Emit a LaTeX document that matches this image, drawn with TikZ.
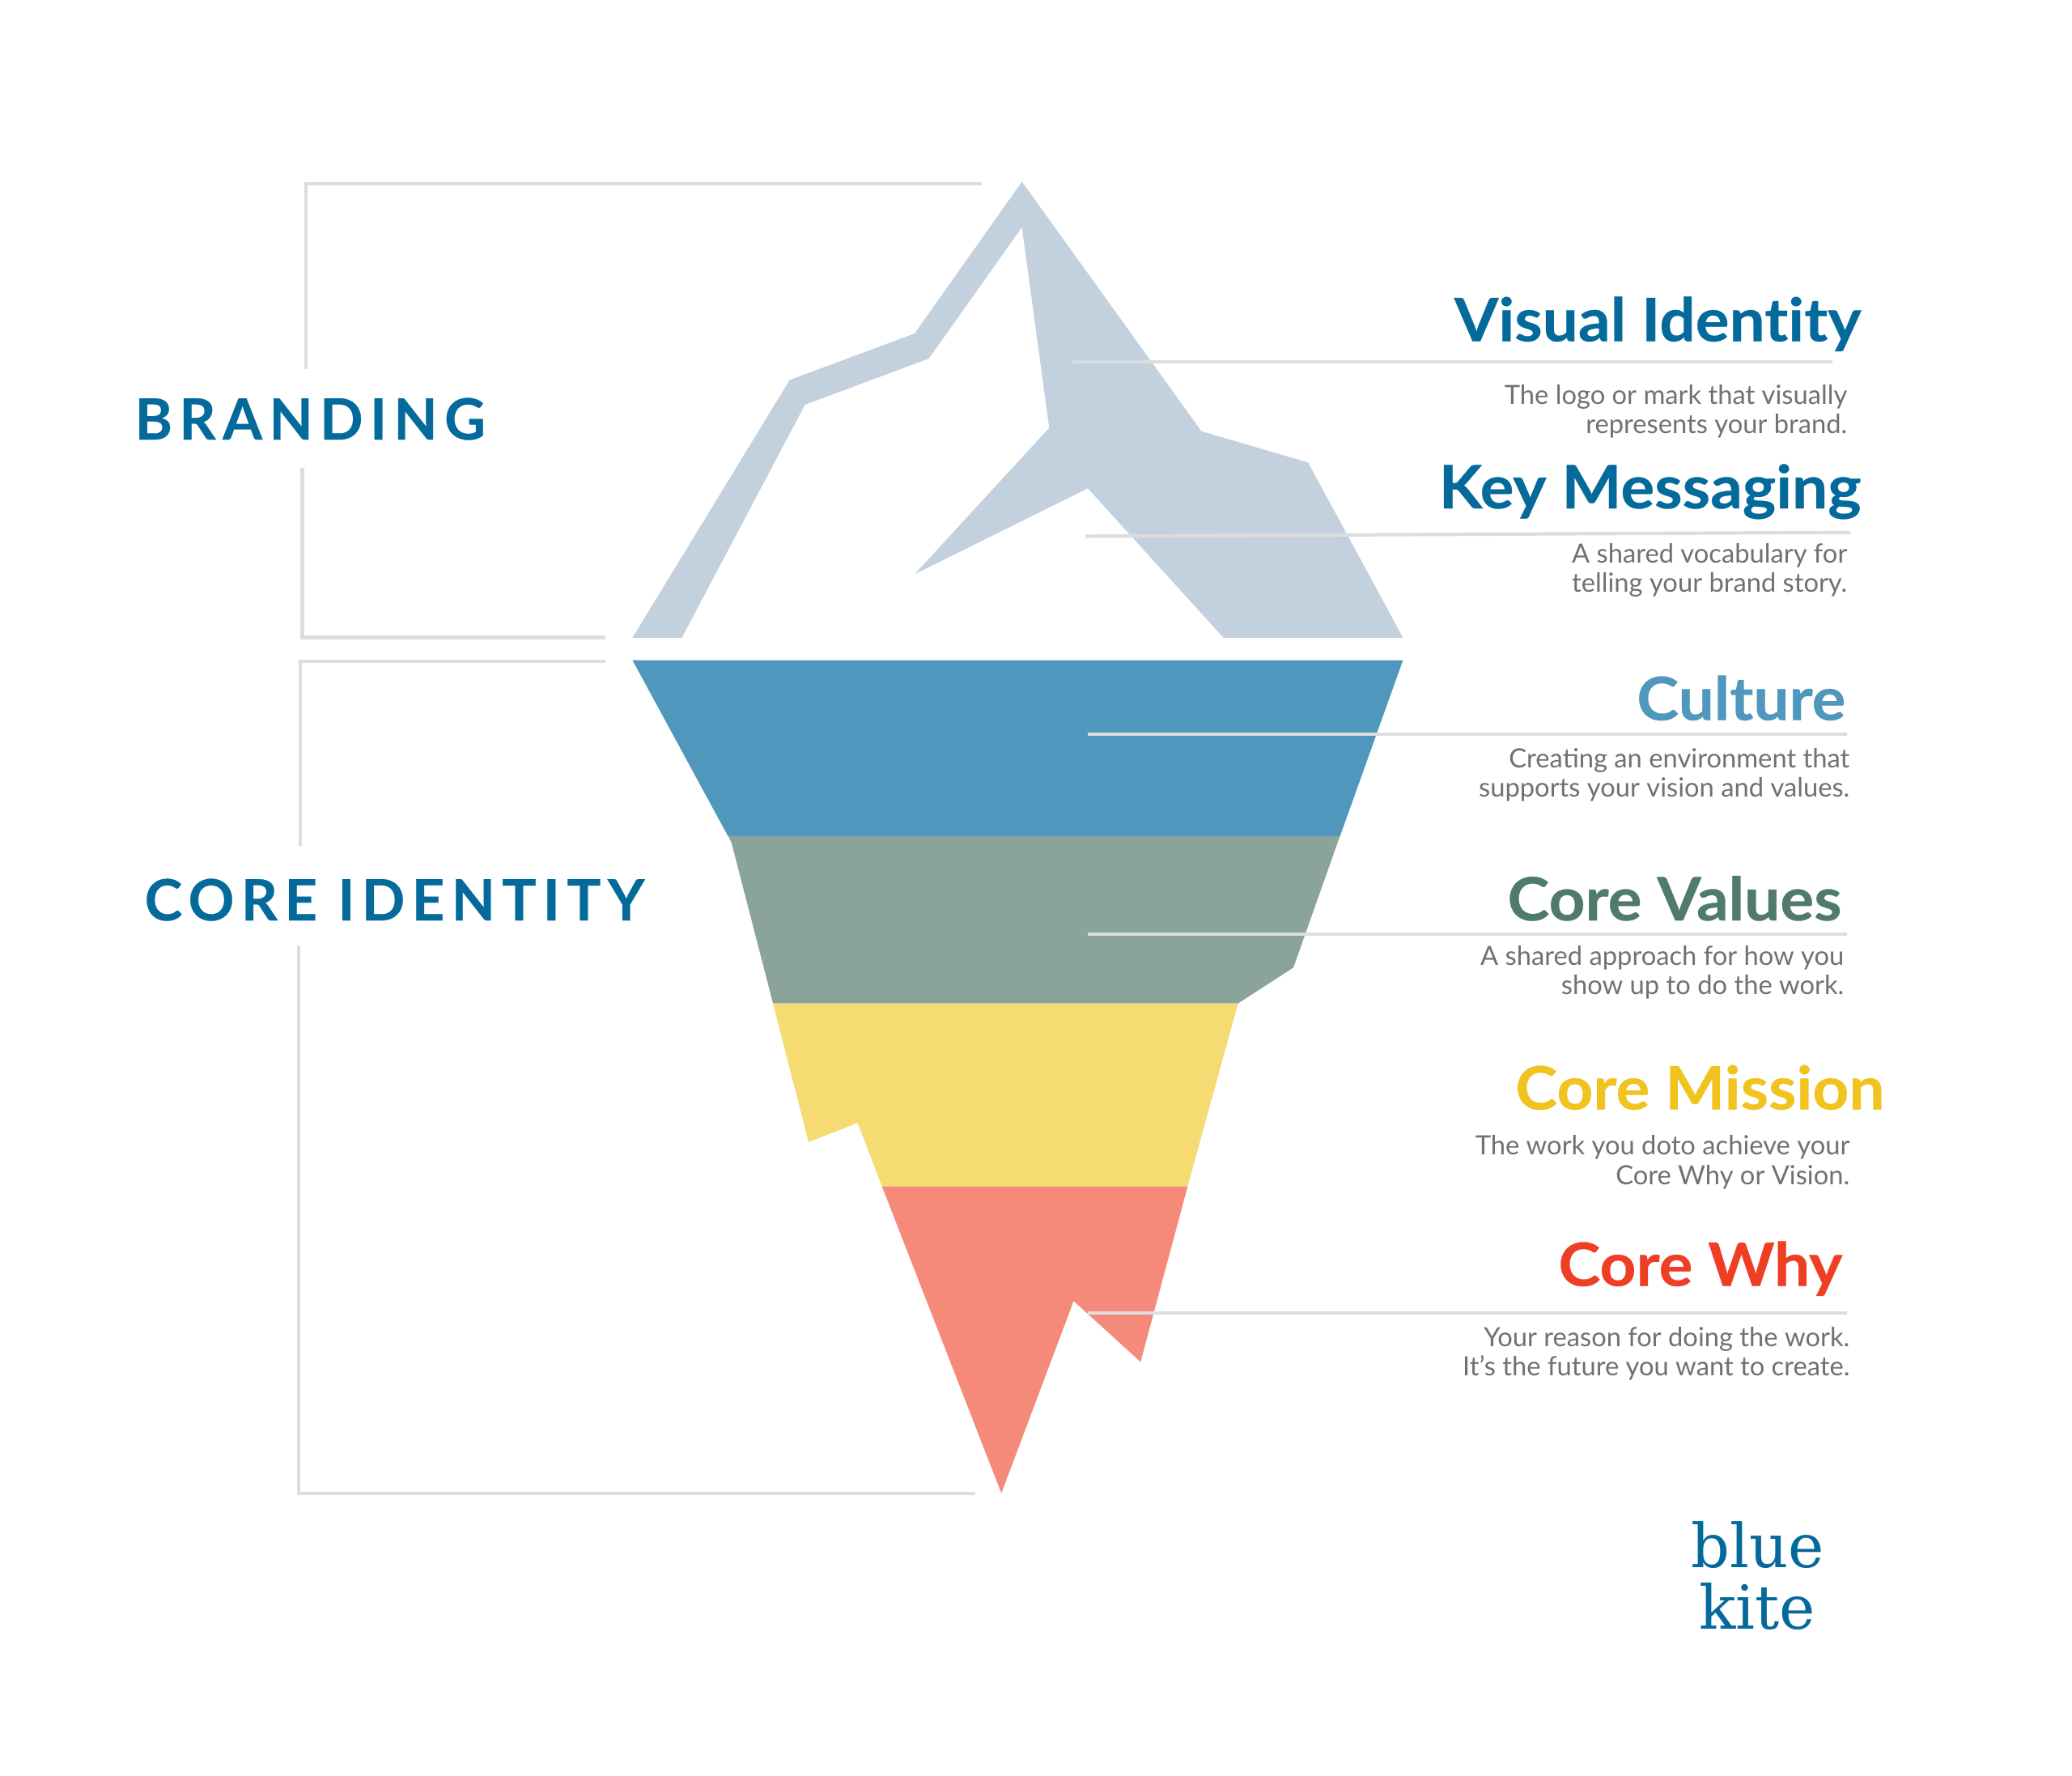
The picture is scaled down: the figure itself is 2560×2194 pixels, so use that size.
\documentclass[tikz,border=0pt]{standalone}
\usepackage{fontspec}
\usepackage{xcolor}
\usetikzlibrary{positioning}
\setmainfont{Lato}
\newfontfamily\headfont[FakeStretch=1.06,Ligatures=NoCommon,BoldFeatures={FakeBold=0.4}]{Lato}
\newfontfamily\spacedfont[LetterSpace=12,BoldFeatures={FakeBold=0.4}]{Lato}
\newfontfamily\logofont{DejaVu Serif}
\definecolor{icelight}{HTML}{C3D1DE}
\definecolor{iceblue}{HTML}{4F97BC}
\definecolor{icegreen}{HTML}{8AA499}
\definecolor{iceyellow}{HTML}{F6DA72}
\definecolor{icered}{HTML}{F5897A}
\definecolor{rulegrey}{HTML}{DCDDDE}
\definecolor{bodygrey}{HTML}{717174}
\definecolor{kiteblue}{HTML}{046A9B}
\definecolor{valuesgreen}{HTML}{4F7A6D}
\definecolor{missionyellow}{HTML}{F0C31E}
\definecolor{whyred}{HTML}{EE3E23}
\tikzset{
  rule/.style={draw=rulegrey,line width=1.2pt},
  head/.style={inner sep=0pt,anchor=base east,font=\fontsize{21}{24}\selectfont\headfont\bfseries},
  body/.style={inner sep=0pt,anchor=base east,align=right,text=bodygrey,font=\fontsize{9.3}{10.3}\selectfont},
  side/.style={inner sep=0pt,anchor=base west,text=kiteblue,font=\fontsize{20}{24}\selectfont\spacedfont\bfseries},
  logo/.style={inner sep=0pt,anchor=base,text=kiteblue,font=\fontsize{21.3}{21.6}\selectfont\logofont},
}

\begin{document}
\begin{tikzpicture}[x=0.01cm,y=-0.01cm]
        \useasboundingbox (0,0) rectangle (2560,2194);
        \fill[white] (0,0) rectangle (2560,2194);

        % iceberg above the water
        \fill[icelight] (1262.6,224.5) -- (1484.3,532.7) -- (1616.2,571.4) -- (1733.4,787.8) -- (1511.7,787.8) -- (1344,603.3) -- (1130,709.4) -- (1296.3,528.6) -- (1262.6,280.8) -- (1147.6,442.9) -- (994.6,500) -- (842.4,787.8) -- (781.4,787.8) -- (975.7,469.4) -- (1130,412) -- cycle;

        % iceberg below the water
        \fill[iceblue] (781.4,815.5) -- (1733.4,815.5) -- (1655.6,1033) -- (899.5,1033) -- cycle;
        \fill[icegreen] (899.5,1032.5) -- (1655.6,1032.5) -- (1598,1195.3) -- (1529.6,1239.6) -- (955.1,1239.6) -- (903.6,1040.4) -- cycle;
        \fill[iceyellow] (955.1,1239.6) -- (1529.6,1239.6) -- (1467.3,1465.8) -- (1089.8,1465.8) -- (1059.7,1387.2) -- (999,1410.8) -- cycle;
        \fill[icered] (1089.8,1465.8) -- (1467.3,1465.8) -- (1409.2,1682.4) -- (1326.5,1607.2) -- (1237.2,1844.6) -- cycle;

        \coordinate (brandtop) at (1212.8,226.7);
        \coordinate (brandcorner) at (378,226.7);
        \coordinate (brandgap) at (378,456.4);
        \coordinate (brandresume) at (373.5,577.5);
        \coordinate (brandlow) at (373.5,787.4);
        \coordinate (brandend) at (748,787.4);
        \coordinate (corestart) at (748,817.3);
        \coordinate (corecorner) at (371.3,817.3);
        \coordinate (coregap) at (371.3,1045);
        \coordinate (coreresume) at (369,1168);
        \coordinate (corelow) at (369,1844.6);
        \coordinate (coreend) at (1204.6,1844.6);

        \draw[rule] (brandtop) -- (brandcorner) -- (brandgap);
        \draw[rule] (brandresume) -- (brandlow) -- (brandend);
        \draw[rule] (corestart) -- (corecorner) -- (coregap);
        \draw[rule] (coreresume) -- (corelow) -- (coreend);

        \node[side] (branding) at (166,543) {BRANDING};
        \node[side] (coreidentity) at (178,1137) {CORE IDENTITY};

        \coordinate (visualin) at (1325,447.3);
        \coordinate (visualout) at (2264,447.3);
        \coordinate (keyin) at (1341,662.4);
        \coordinate (keyout) at (2286,657.7);
        \coordinate (culturein) at (1343.5,906.7);
        \coordinate (cultureout) at (2282,906.7);
        \coordinate (valuesin) at (1343.5,1154);
        \coordinate (valuesout) at (2282,1154);
        \coordinate (whyin) at (1343.5,1622);
        \coordinate (whyout) at (2282,1622);

        \draw[rule] (visualin) -- (visualout);
        \draw[rule] (keyin) -- (keyout);
        \draw[rule] (culturein) -- (cultureout);
        \draw[rule] (valuesin) -- (valuesout);
        \draw[rule] (whyin) -- (whyout);

        \node[head,text=kiteblue] (visual) at (2300,421.5) {Visual Identity};
        \node[body] (visualtext) at (2283,535.5) {The logo or mark that visually\\represents your brand.};
        \node[head,text=kiteblue] (key) at (2300,628) {Key Messaging};
        \node[body] (keytext) at (2283,731.5) {A shared vocabulary for\\telling your brand story.};
        \node[head,text=iceblue] (culture) at (2281,889.5) {Culture};
        \node[body] (culturetext) at (2286,984.5) {Creating an environment that\\supports your vision and values.};
        \node[head,text=valuesgreen] (values) at (2276,1137) {Core Values};
        \node[body] (valuestext) at (2279,1228.5) {A shared approach for how you\\show up to do the work.};
        \node[head,text=missionyellow] (mission) at (2329,1370.5) {Core Mission};
        \node[body] (missiontext) at (2286,1463) {The work you doto achieve your\\Core Why or Vision.};
        \node[head,text=whyred] (why) at (2277,1588.5) {Core Why};
        \node[body] (whytext) at (2286,1699.5) {Your reason for doing the work.\\It’s the future you want to create.};

        \node[logo] (blue) at (2172,1936) {blue};
        \node[logo] (kite) at (2171,2012) {kite};
\end{tikzpicture}
\end{document}
